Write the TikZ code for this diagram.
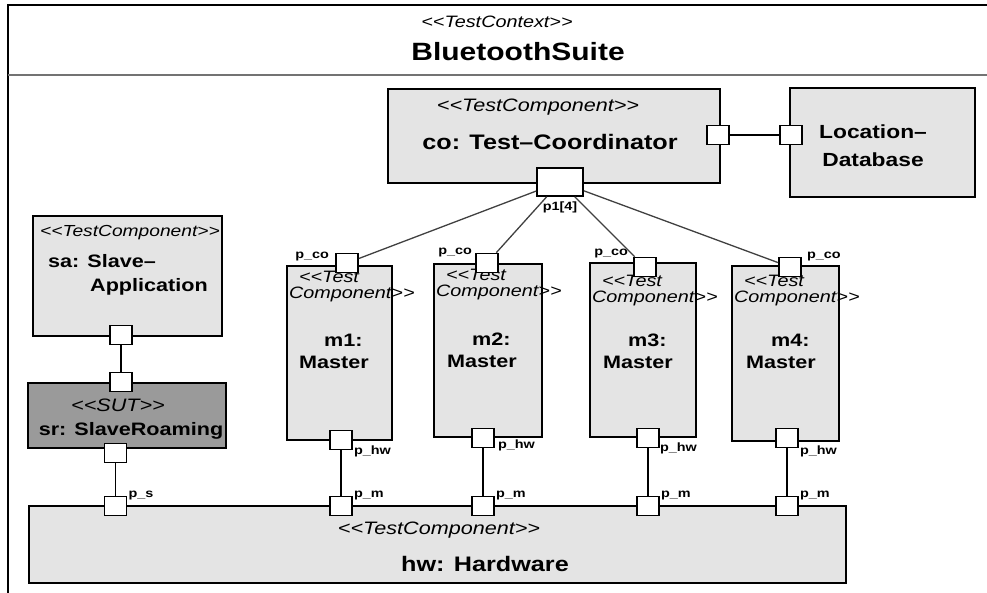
\documentclass[tikz,border=0pt]{standalone}
\usepackage{fontspec}
\setmainfont{Liberation Sans}[FakeStretch=1.2]
\usepackage{tikz}
\usetikzlibrary{positioning}
\definecolor{boxgray}{HTML}{E4E4E4}
\definecolor{sutgray}{HTML}{9A9A9A}
\tikzset{comp/.style = {draw, fill=boxgray, line width=2.2, inner sep=0}}
\tikzset{port/.style = {draw, fill=white, line width=1.7, inner sep=0, minimum width=22, minimum height=19}}
\tikzset{wire/.style = {line width=1.6}}
\tikzset{fan/.style = {line width=1.3, black!75}}
\tikzset{stereo/.style = {inner sep=0, font=\fontsize{18}{20}\selectfont\itshape}}
\tikzset{cname/.style = {inner sep=0, font=\fontsize{21}{24}\selectfont\bfseries}}
\tikzset{mstereo/.style = {inner sep=0, align=left, font=\fontsize{16.5}{16}\selectfont\itshape}}
\tikzset{mname/.style = {inner sep=0, align=left, font=\fontsize{18}{22}\selectfont\bfseries}}
\tikzset{plabel/.style = {inner sep=0, font=\fontsize{12}{13}\selectfont\bfseries}}

\begin{document}
\begin{tikzpicture}[x=1pt, y=-1pt]
    \useasboundingbox (0,0) rectangle (987,593);
    \draw [line width=2.2] (995,5) -- (8,5) -- (8,600);
    \draw [line width=2.5, black!55] (8,75) -- (995,75);
    \node [stereo, font=\fontsize{16.5}{18}\selectfont\itshape] (ctx) at (497,22) {<{}<TestContext>{}>};
    \node [cname, font=\fontsize{25}{28}\selectfont\bfseries] (suite) at (518,52) {BluetoothSuite};

    \node [comp, minimum width=332, minimum height=94] (co) at (554,136) {};
    \node [stereo] (costereo) at (538,107) {<{}<TestComponent>{}>};
    \node [cname] (coname) at (550,142) {co: Test--Coordinator};
    \node [comp, minimum width=185, minimum height=109] (ld) at (882.5,142.5) {};
    \node [cname, font=\fontsize{19}{28}\selectfont\bfseries, align=center] (ldname) at (873,146) {Location--\\Database};
    \node [port] (copr) at (718,135) {};
    \node [port] (ldpl) at (791,135) {};
    \draw [wire] (copr) -- (ldpl);
    \node [port, minimum width=46, minimum height=28] (p1) at (560,182) {};
    \node [plabel, below=5pt of p1] (p1lbl) {p1[4]};

    \node [comp, minimum width=189, minimum height=120] (sa) at (127.5,276) {};
    \node [stereo, font=\fontsize{16}{18}\selectfont\itshape] (sastereo) at (130,233) {<{}<TestComponent>{}>};
    \node [cname, font=\fontsize{18}{20}\selectfont\bfseries, anchor=west] (saname) at (48,261) {sa: Slave--};
    \node [cname, font=\fontsize{18}{20}\selectfont\bfseries, anchor=west] (saapp) at (90,287) {Application};
    \node [port] (sap) at (121,335) {};

    \node [comp, fill=sutgray, minimum width=198, minimum height=65] (sr) at (127,415.5) {};
    \node [stereo] (srstereo) at (118,405) {<{}<SUT>{}>};
    \node [cname, font=\fontsize{18}{20}\selectfont\bfseries] (srname) at (131,431) {sr: SlaveRoaming};
    \node [port] (srt) at (121,382) {};
    \node [port] (srb) at (115.5,453) {};
    \draw [wire] (sap) -- (srt);

    \node [comp, minimum width=817, minimum height=77] (hw) at (437.5,544.5) {};
    \node [stereo] (hwstereo) at (439,530) {<{}<TestComponent>{}>};
    \node [cname] (hwname) at (485,564) {hw: Hardware};
    \node [port] (hwps) at (115.5,506) {};
    \node [plabel, right=1pt of hwps, yshift=10pt] (pslbl) {p\_s};
    \draw [wire] (srb) -- (hwps);

    \node [comp, minimum width=105, minimum height=174] (m1) at (339.5,353) {};
    \node [mstereo, anchor=north west] (m1stereo) at ([shift={(3,6)}]m1.north west) {\hspace*{10pt}<{}<Test\\Component>{}>};
    \node [mname, anchor=west] (m1name) at ([shift={(13,-2)}]m1.west) {\hspace*{25pt}m1:\\Master};
    \node [port] (m1co) at (347,263) {};
    \node [port] (m1hw) at (341,440) {};
    \node [plabel, left=6pt of m1co, yshift=6pt] (m1colbl) {p\_co};
    \node [plabel, right=1pt of m1hw, yshift=-11pt] (m1hwlbl) {p\_hw};
    \node [port] (hwm1) at (341,506) {};
    \node [plabel, right=1pt of hwm1, yshift=10pt] (hwm1lbl) {p\_m};
    \draw [wire] (m1hw) -- (hwm1);

    \node [comp, minimum width=108, minimum height=173] (m2) at (488,350.5) {};
    \node [mstereo, anchor=north west] (m2stereo) at ([shift={(3,6)}]m2.north west) {\hspace*{10pt}<{}<Test\\Component>{}>};
    \node [mname, anchor=west] (m2name) at ([shift={(14,0)}]m2.west) {\hspace*{25pt}m2:\\Master};
    \node [port] (m2co) at (487,263) {};
    \node [port] (m2hw) at (483,438) {};
    \node [plabel, left=3pt of m2co, yshift=10pt] (m2colbl) {p\_co};
    \node [plabel, right=3pt of m2hw, yshift=-7pt] (m2hwlbl) {p\_hw};
    \node [port] (hwm2) at (483,506) {};
    \node [plabel, right=1pt of hwm2, yshift=10pt] (hwm2lbl) {p\_m};
    \draw [wire] (m2hw) -- (hwm2);

    \node [comp, minimum width=106, minimum height=174] (m3) at (643,350) {};
    \node [mstereo, anchor=north west] (m3stereo) at ([shift={(3,13)}]m3.north west) {\hspace*{10pt}<{}<Test\\Component>{}>};
    \node [mname, anchor=west] (m3name) at ([shift={(14,1)}]m3.west) {\hspace*{25pt}m3:\\Master};
    \node [port] (m3co) at (645,267) {};
    \node [port] (m3hw) at (648,438) {};
    \node [plabel, left=5pt of m3co, yshift=13pt] (m3colbl) {p\_co};
    \node [plabel, right=0pt of m3hw, yshift=-10pt] (m3hwlbl) {p\_hw};
    \node [port] (hwm3) at (648,506) {};
    \node [plabel, right=1pt of hwm3, yshift=10pt] (hwm3lbl) {p\_m};
    \draw [wire] (m3hw) -- (hwm3);

    \node [comp, minimum width=107, minimum height=175] (m4) at (785.5,353.5) {};
    \node [mstereo, anchor=north west] (m4stereo) at ([shift={(3,10)}]m4.north west) {\hspace*{10pt}<{}<Test\\Component>{}>};
    \node [mname, anchor=west] (m4name) at ([shift={(15,-2)}]m4.west) {\hspace*{25pt}m4:\\Master};
    \node [port] (m4co) at (790,267) {};
    \node [port] (m4hw) at (787,438) {};
    \node [plabel, right=5pt of m4co, yshift=10pt] (m4colbl) {p\_co};
    \node [plabel, right=1pt of m4hw, yshift=-13pt] (m4hwlbl) {p\_hw};
    \node [port] (hwm4) at (787,506) {};
    \node [plabel, right=1pt of hwm4, yshift=10pt] (hwm4lbl) {p\_m};
    \draw [wire] (m4hw) -- (hwm4);

    \draw [fan] (p1) -- (m1co);
    \draw [fan] (p1) -- (m2co);
    \draw [fan] (p1) -- (m3co);
    \draw [fan] (p1) -- (m4co);
  \end{tikzpicture}
\end{document}
